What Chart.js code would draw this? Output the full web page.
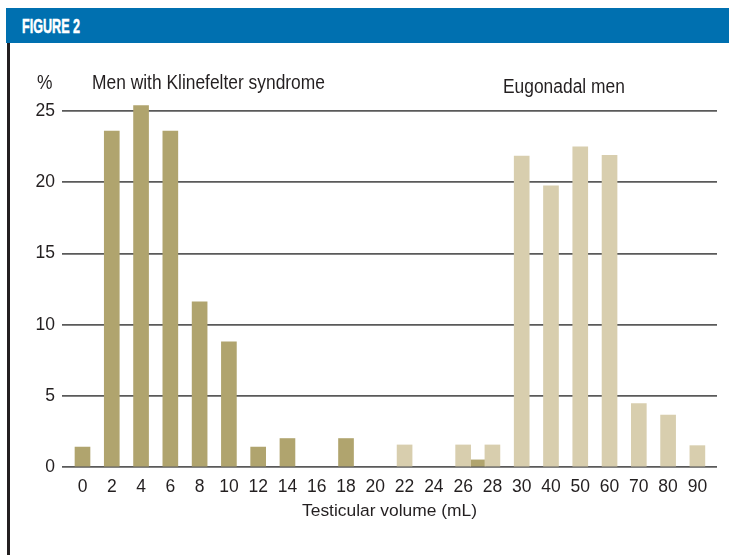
<!DOCTYPE html>
<html>
<head>
<meta charset="utf-8">
<script src="https://cdn.jsdelivr.net/npm/chart.js@4/dist/chart.umd.min.js"></script>
<style>
  body { margin: 0; background: #fff; }
  #wrap { position: relative; width: 729px; height: 555px; overflow: hidden; font-family: 'Liberation Sans', Arial, sans-serif; color: #231f20; }
  #myChart { position: absolute; left: 0; top: 0; }
  .header { position: absolute; left: 6px; top: 8px; width: 723px; height: 35px; background: rgb(0, 112, 176); }
  .header span { position: absolute; left: 16px; top: 7px; color: #fff; font-weight: bold; font-size: 21px; line-height: 21px; transform: scaleX(0.6); transform-origin: left center; white-space: nowrap; -webkit-text-stroke: 0.5px #fff; }
  .border { position: absolute; left: 7px; top: 43px; width: 3px; height: 512px; background: #231f20; }
  .lbl { position: absolute; font-size: 17.4px; line-height: 17px; white-space: nowrap; transform: scaleY(1.16); transform-origin: left 14.4px; }
</style>
</head>
<body>
<div id="wrap">
  <canvas id="myChart" width="729" height="555"></canvas>
  <div class="header"><span>FIGURE 2</span></div>
  <div class="border"></div>
  <div class="lbl" style="left:37px; top:75px;">%</div>
  <div class="lbl" style="left:92px; top:75px;">Men with Klinefelter syndrome</div>
  <div class="lbl" style="left:503px; top:79px;">Eugonadal men</div>
</div>
<script>
const categories = ['0', '2', '4', '6', '8', '10', '12', '14', '16', '18', '20', '22', '24', '26', '28',
                    '30', '40', '50', '60', '70', '80', '90'];
const klinefelter = [1.4, 23.6, 25.4, 23.6, 11.6, 8.8, 1.4, 2.0, null, 2.0, null, null, null, null, null,
                     null, null, null, null, null, null, null];
// one small Klinefelter bar sits between the 26 and 28 slots
const klinefelterBetween = [{ after: '26', value: 0.5 }];
const eugonadal = [null, null, null, null, null, null, null, null, null, null, null, 1.55, null, 1.55, 1.55,
                   21.85, 19.75, 22.5, 21.9, 4.45, 3.65, 1.5];
const yTicks = [0, 5, 10, 15, 20, 25];

const darkColor = 'rgb(176, 164, 110)';
const lightColor = 'rgb(216, 206, 174)';
const textColor = '#231f20';
const fontFamily = "'Liberation Sans', Arial, sans-serif";

function toPoints(values) {
    const pts = [];
    values.forEach((v, i) => {
        if (v !== null) pts.push({ x: i, y: v });
    });
    return pts;
}

const kPoints = toPoints(klinefelter);
klinefelterBetween.forEach(b => {
    kPoints.push({ x: categories.indexOf(b.after) + 0.5, y: b.value });
});

const ctx = document.getElementById('myChart').getContext('2d');
const myChart = new Chart(ctx, {
    type: 'bar',
    data: {
        datasets: [{
            label: 'Eugonadal men',
            data: toPoints(eugonadal),
            backgroundColor: lightColor,
            barThickness: 15
        }, {
            label: 'Men with Klinefelter syndrome',
            data: kPoints,
            backgroundColor: darkColor,
            barThickness: 15
        }]
    },
    options: {
        responsive: false,
        animation: false,
        devicePixelRatio: 1,
        grouped: false,
        layout: { padding: { top: 97, right: 12, left: 0, bottom: 0 } },
        plugins: { legend: { display: false }, tooltip: { enabled: false } },
        scales: {
            x: {
                type: 'linear',
                offset: false,
                min: -0.7,
                max: 21.67,
                afterFit: scale => { scale.height = 88; },
                afterBuildTicks: scale => {
                    scale.ticks = categories.map((c, i) => ({ value: i }));
                },
                grid: { display: false, drawTicks: false },
                border: { display: false },
                ticks: {
                    autoSkip: false,
                    maxRotation: 0,
                    padding: 10,
                    color: textColor,
                    font: { family: fontFamily, size: 17.5 },
                    callback: value => categories[value]
                },
                title: {
                    display: true,
                    text: 'Testicular volume (mL)',
                    color: textColor,
                    font: { family: fontFamily, size: 17.4 },
                    padding: { top: 0, bottom: 33 }
                }
            },
            y: {
                min: 0,
                max: 26,
                afterFit: scale => { scale.width = 62; },
                afterBuildTicks: scale => {
                    scale.ticks = yTicks.map(v => ({ value: v }));
                },
                grid: { color: '#5a5a5a', lineWidth: 1.8, drawTicks: false },
                border: { display: false },
                ticks: {
                    padding: 7,
                    color: textColor,
                    font: { family: fontFamily, size: 17.5 }
                }
            }
        }
    }
});
</script>
</body>
</html>
